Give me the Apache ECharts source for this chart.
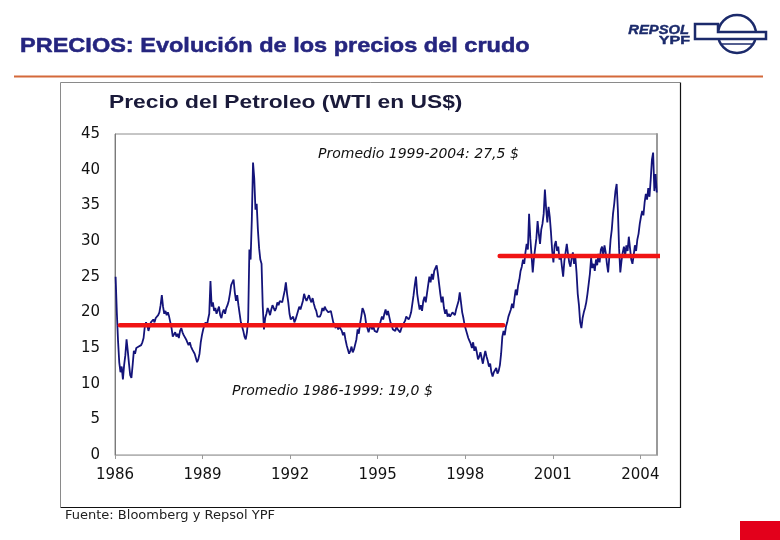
<!DOCTYPE html>
<html><head><meta charset="utf-8">
<script src="https://cdn.jsdelivr.net/npm/echarts@6/dist/echarts.min.js"></script>
<style>html,body{margin:0;padding:0;background:#fff}#c{width:780px;height:540px}</style>
</head><body><div id="c"></div>
<script>
// WTI price (US$), semi-monthly readings per year
const p1986 = [25.0, 20.0, 16.0, 13.0, 11.6, 12.4, 10.6, 12.6, 14.0, 16.2, 14.6, 12.8, 11.2, 10.8, 12.6, 14.6, 14.2, 15.0, 14.8, 15.2, 15.0, 15.4, 15.8, 16.4];
const p1987 = [18.0, 18.6, 18.2, 17.4, 18.0, 18.6, 18.8, 19.0, 18.6, 19.2, 19.0, 19.6, 20.0, 21.0, 22.4, 20.8, 19.8, 20.2, 19.6, 20.0, 19.4, 18.6, 17.8, 16.6];
const p1988 = [16.8, 17.2, 16.6, 17.0, 16.4, 17.4, 17.8, 17.2, 16.8, 17.0, 16.2, 15.8, 15.4, 15.8, 15.2, 14.8, 15.0, 14.2, 13.6, 13.0, 13.4, 14.2, 15.8, 16.8];
const p1989 = [17.6, 18.2, 18.6, 18.0, 19.0, 19.8, 24.4, 20.8, 21.4, 20.2, 20.6, 19.8, 20.0, 20.8, 19.6, 19.2, 20.0, 20.4, 19.8, 20.6, 21.0, 21.6, 22.6, 23.8];
const p1990 = [24.0, 24.6, 22.8, 21.6, 22.4, 21.0, 19.8, 18.6, 18.0, 17.4, 16.6, 16.2, 17.2, 19.0, 28.8, 27.4, 33.0, 41.0, 38.8, 34.4, 35.2, 31.6, 29.0, 27.4];
const p1991 = [26.8, 20.8, 17.6, 19.2, 19.8, 20.6, 20.2, 19.6, 20.4, 21.0, 20.8, 20.2, 20.6, 21.4, 21.0, 21.6, 21.8, 21.4, 22.2, 23.0, 24.2, 22.6, 21.4, 19.8];
const p1992 = [19.0, 18.8, 19.4, 18.6, 19.0, 19.6, 20.2, 20.8, 20.4, 21.0, 21.6, 22.6, 22.0, 21.6, 21.8, 22.4, 21.8, 21.4, 22.0, 21.2, 20.6, 20.2, 19.4, 19.6];
const p1993 = [19.4, 19.8, 20.6, 20.2, 20.8, 20.4, 20.6, 20.0, 19.8, 20.2, 19.4, 18.6, 18.2, 17.8, 18.4, 17.6, 18.0, 17.8, 17.4, 16.8, 17.2, 16.2, 15.4, 14.8];
const p1994 = [14.2, 14.6, 15.2, 14.4, 14.8, 15.0, 16.2, 17.6, 17.0, 18.4, 19.4, 20.6, 20.2, 19.6, 18.4, 17.8, 17.2, 17.8, 18.2, 17.6, 18.0, 17.4, 17.6, 17.2];
const p1995 = [17.8, 18.2, 18.8, 19.4, 19.0, 19.8, 20.4, 19.6, 20.2, 19.4, 18.6, 18.2, 17.6, 17.8, 17.4, 18.0, 17.6, 17.8, 17.2, 17.8, 18.2, 18.0, 18.8, 19.4];
const p1996 = [19.6, 19.0, 19.4, 20.0, 21.2, 22.4, 23.8, 25.0, 22.6, 21.4, 20.4, 21.0, 20.2, 21.6, 22.2, 21.4, 22.6, 23.8, 25.0, 24.2, 25.4, 24.6, 25.8, 26.2];
const p1997 = [26.6, 25.4, 24.0, 22.6, 21.4, 22.2, 20.6, 19.8, 20.4, 19.4, 19.8, 19.4, 19.6, 20.0, 20.2, 19.6, 20.4, 21.0, 21.6, 22.8, 21.4, 20.0, 19.2, 18.2];
const p1998 = [17.6, 17.0, 16.4, 16.0, 15.6, 15.0, 15.8, 14.6, 15.2, 14.4, 13.4, 13.8, 14.4, 13.6, 12.8, 13.8, 14.6, 13.8, 13.2, 12.4, 12.8, 11.6, 11.0, 11.6];
const p1999 = [11.6, 12.2, 11.4, 11.8, 12.6, 14.2, 16.6, 17.4, 16.8, 18.0, 18.6, 19.4, 19.2, 20.4, 21.2, 20.6, 22.0, 23.2, 22.4, 23.8, 24.6, 25.8, 26.4, 27.4];
const p2000 = [26.8, 28.4, 29.6, 28.8, 33.8, 30.4, 28.0, 25.6, 27.6, 29.0, 30.4, 32.8, 31.0, 29.6, 31.6, 32.4, 33.8, 37.2, 34.6, 32.6, 34.8, 33.4, 31.2, 28.6];
const p2001 = [27.0, 29.4, 30.0, 28.6, 29.2, 27.4, 28.0, 26.4, 25.0, 27.2, 28.4, 29.6, 28.2, 27.0, 26.4, 27.6, 28.4, 26.8, 27.8, 25.6, 22.6, 21.0, 18.6, 17.8];
const p2002 = [19.2, 20.0, 20.6, 21.4, 22.6, 24.0, 25.4, 27.6, 26.2, 26.8, 25.8, 27.4, 26.6, 28.2, 27.0, 28.8, 29.2, 28.0, 29.4, 28.4, 26.8, 25.6, 27.8, 30.2];
const p2003 = [31.6, 33.8, 35.2, 37.0, 38.0, 34.4, 29.0, 25.6, 27.2, 28.4, 29.2, 28.0, 29.4, 28.6, 30.6, 29.0, 27.4, 26.8, 28.0, 29.4, 28.6, 30.2, 31.0, 32.4];
const p2004 = [33.4, 34.2, 33.6, 35.4, 36.6, 35.8, 37.4, 36.2, 38.6, 41.4, 42.4, 37.0, 39.4, 36.8];

const years = [1986,1987,1988,1989,1990,1991,1992,1993,1994,1995,1996,1997,1998,1999,2000,2001,2002,2003,2004];
const yearPrices = [p1986,p1987,p1988,p1989,p1990,p1991,p1992,p1993,p1994,p1995,p1996,p1997,p1998,p1999,p2000,p2001,p2002,p2003,p2004];
const pointsPerYear = 24;

// average lines (level, start/end as decimal year)
const avgLevels = [18.2, 27.9];
const avgStarts = [1986.17, 1999.18];
const avgEnds = [1999.3, 2004.77];
const avgLabels = ['Promedio 1999-2004: 27,5 $', 'Promedio 1986-1999: 19,0 $'];

// axes
const xMin = 1986, xMax = 2004.57, xStep = 3;
const yMin = 0, yMax = 45, yStep = 5;

const chartTitle = 'Precio del Petroleo (WTI en US$)';
const pageTitle = 'PRECIOS: Evolución de los precios del crudo';
const sourceNote = 'Fuente: Bloomberg y Repsol YPF';
const logoTop = 'REPSOL', logoBottom = 'YPF';

const priceData = [];
years.forEach((yr, k) => {
  yearPrices[k].forEach((v, i) => priceData.push([yr + (i + 0.5) / pointsPerYear, v]));
});

const chart = echarts.init(document.getElementById('c'), null, {renderer: 'canvas'});
const navy = '#25257f';
const logoBlue = '#1b2a6b';
chart.setOption({
  animation: false,
  backgroundColor: '#ffffff',
  grid: {left: 115, right: 123, top: 134, bottom: 85, show: true, borderColor: '#8c8c8c', borderWidth: 1, backgroundColor: 'transparent'},
  xAxis: {
    type: 'value', min: xMin, max: xMax, interval: xStep,
    axisLine: {show: true, lineStyle: {color: '#b4b4b4', width: 1}},
    axisTick: {show: true, inside: false, length: 4, lineStyle: {color: '#999'}},
    splitLine: {show: false},
    axisLabel: {
      margin: 13, color: '#111', fontSize: 15, fontFamily: 'DejaVu Sans',
      showMaxLabel: false,
      formatter: v => {
        const r = Math.round(v);
        return (Math.abs(v - r) < 1e-6 && (r - xMin) % xStep === 0) ? String(r) : '';
      }
    }
  },
  yAxis: [{
    type: 'value', min: yMin, max: yMax, interval: yStep,
    axisLine: {show: true, lineStyle: {color: '#7a7a7a'}},
    axisTick: {show: false},
    splitLine: {show: false},
    axisLabel: {margin: 15, color: '#111', fontSize: 15, fontFamily: 'DejaVu Sans', padding: [0, 0, 5, 0]}
  }, {
    type: 'value', min: yMin, max: yMax, interval: yStep, position: 'right',
    axisLine: {show: true, lineStyle: {color: '#9a9a9a', width: 2}},
    axisTick: {show: false}, axisLabel: {show: false}, splitLine: {show: false}
  }],
  series: [{
    type: 'line', data: priceData, showSymbol: false, symbol: 'none',
    lineStyle: {color: '#14147a', width: 1.8}, z: 3
  }].concat(avgLevels.map((lv, k) => ({
    type: 'line', data: [[avgStarts[k], lv], [avgEnds[k], lv]], showSymbol: false, symbol: 'none',
    clip: false, lineStyle: {color: '#f01414', width: 4.5, cap: 'round'}, z: 4
  }))),
  graphic: [
    {type: 'text', x: 20, y: 46, scaleX: 1.12, style: {text: pageTitle, fill: navy, stroke: navy, lineWidth: 0.5, fontSize: 21, fontWeight: 'bold', fontFamily: 'Liberation Sans', verticalAlign: 'middle', align: 'left'}},
    {type: 'line', shape: {x1: 14, y1: 76.5, x2: 763, y2: 76.5}, style: {stroke: '#d4693a', lineWidth: 2}},
    {type: 'polyline', shape: {points: [[60.5, 507], [60.5, 82.5], [680, 82.5]]}, style: {stroke: '#8a8a8a', lineWidth: 1, fill: null}},
    {type: 'polyline', shape: {points: [[680.5, 82.5], [680.5, 507.5], [60.5, 507.5]]}, style: {stroke: '#111', lineWidth: 1.2, fill: null}},
    {type: 'text', x: 109, y: 103, scaleX: 1.2, style: {text: chartTitle, fill: '#1a1a3a', fontSize: 19, fontWeight: 'bold', fontFamily: 'Liberation Sans', verticalAlign: 'middle', align: 'left'}},
    {type: 'text', x: 318, y: 154, style: {text: avgLabels[0], fill: '#111', fontSize: 14, fontStyle: 'italic', fontFamily: 'DejaVu Sans', verticalAlign: 'middle', align: 'left'}},
    {type: 'text', x: 232, y: 391, style: {text: avgLabels[1], fill: '#111', fontSize: 14, fontStyle: 'italic', fontFamily: 'DejaVu Sans', verticalAlign: 'middle', align: 'left'}},
    {type: 'text', x: 65, y: 516, style: {text: sourceNote, fill: '#222', fontSize: 13, fontFamily: 'DejaVu Sans', verticalAlign: 'middle', align: 'left'}},
    {type: 'rect', shape: {x: 740, y: 521, width: 40, height: 19}, style: {fill: '#e3001b'}},
    // logo
    {type: 'text', x: 689, y: 30.5, scaleX: 1.18, style: {text: logoTop, fill: logoBlue, stroke: logoBlue, lineWidth: 0.4, fontSize: 12.5, fontWeight: 'bold', fontStyle: 'italic', fontFamily: 'Liberation Sans', verticalAlign: 'middle', align: 'right'}},
    {type: 'text', x: 690, y: 41, scaleX: 1.4, style: {text: logoBottom, fill: logoBlue, stroke: logoBlue, lineWidth: 0.4, fontSize: 11.5, fontWeight: 'bold', fontFamily: 'Liberation Sans', verticalAlign: 'middle', align: 'right'}},
    {type: 'circle', shape: {cx: 737, cy: 34, r: 19}, style: {stroke: logoBlue, lineWidth: 2.5, fill: '#fff'}},
    {type: 'polygon', shape: {points: [[695, 24], [718, 24], [718, 32], [766, 32], [766, 39], [695, 39]]}, style: {stroke: logoBlue, lineWidth: 2.5, fill: '#fff'}},
    {type: 'line', shape: {x1: 722, y1: 44, x2: 752, y2: 44}, style: {stroke: logoBlue, lineWidth: 1.5}}
  ]
});
</script>
</body></html>
